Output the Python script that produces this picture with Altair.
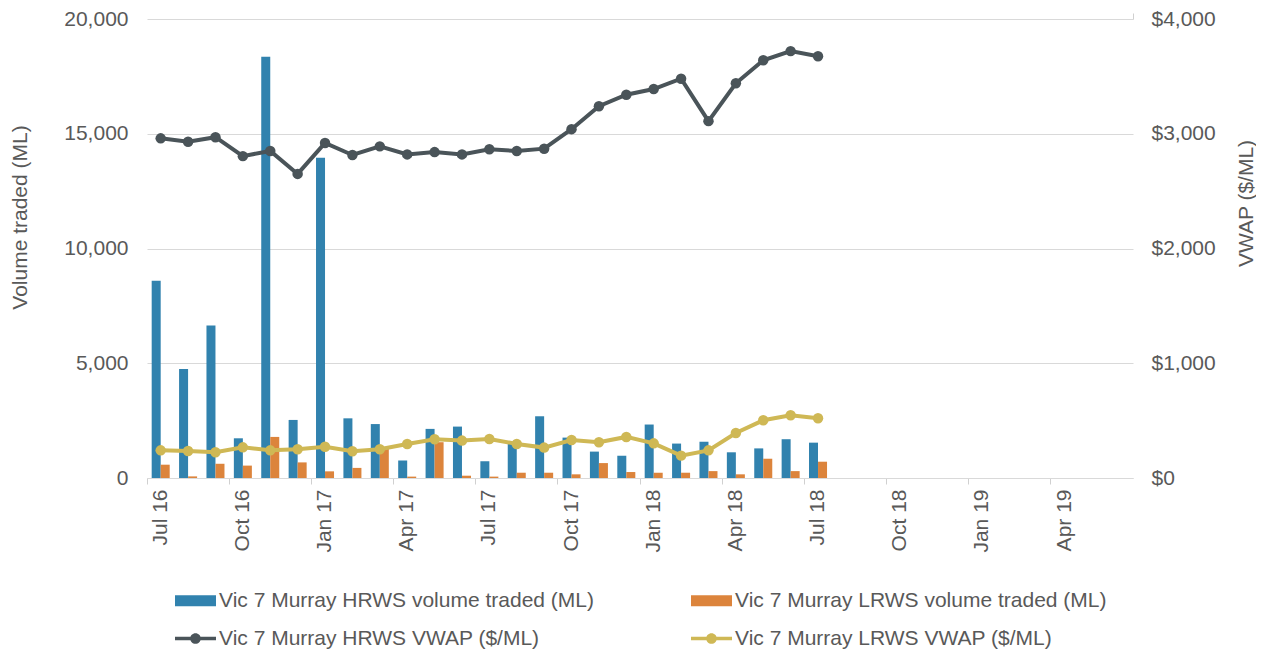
import altair as alt
import pandas as pd

months = ["Jul 16", "Aug 16", "Sep 16", "Oct 16", "Nov 16", "Dec 16",
          "Jan 17", "Feb 17", "Mar 17", "Apr 17", "May 17", "Jun 17",
          "Jul 17", "Aug 17", "Sep 17", "Oct 17", "Nov 17", "Dec 17",
          "Jan 18", "Feb 18", "Mar 18", "Apr 18", "May 18", "Jun 18",
          "Jul 18", "Aug 18", "Sep 18", "Oct 18", "Nov 18", "Dec 18",
          "Jan 19", "Feb 19", "Mar 19", "Apr 19", "May 19", "Jun 19"]
data_months = ["Jul 16", "Aug 16", "Sep 16", "Oct 16", "Nov 16", "Dec 16",
               "Jan 17", "Feb 17", "Mar 17", "Apr 17", "May 17", "Jun 17",
               "Jul 17", "Aug 17", "Sep 17", "Oct 17", "Nov 17", "Dec 17",
               "Jan 18", "Feb 18", "Mar 18", "Apr 18", "May 18", "Jun 18",
               "Jul 18"]
tick_labels = ["Jul 16", "Oct 16", "Jan 17", "Apr 17", "Jul 17", "Oct 17",
               "Jan 18", "Apr 18", "Jul 18", "Oct 18", "Jan 19", "Apr 19"]
last_month = ["Jun 19"]

hrws_vol = [8600, 4750, 6650, 1730, 18350, 2530, 13950, 2600, 2350, 760, 2140, 2240,
            730, 1500, 2690, 1760, 1150, 970, 2330, 1500, 1580, 1120, 1290, 1690, 1540]
lrws_vol = [580, 70, 620, 540, 1790, 680, 290, 440, 1300, 60, 1560, 100,
            60, 230, 230, 160, 650, 260, 230, 230, 300, 160, 840, 300, 710]
hrws_vwap = [2960, 2930, 2970, 2805, 2850, 2650, 2920, 2815, 2890, 2820, 2840, 2820,
             2865, 2850, 2870, 3040, 3240, 3340, 3390, 3480, 3110, 3440, 3640, 3720, 3675]
lrws_vwap = [241, 235, 224, 267, 241, 250, 273, 233, 250, 297, 337, 326,
             340, 297, 265, 331, 311, 358, 302, 195, 241, 392, 503, 547, 520]

series = ["Vic 7 Murray HRWS volume traded (ML)",
          "Vic 7 Murray LRWS volume traded (ML)",
          "Vic 7 Murray HRWS VWAP ($/ML)",
          "Vic 7 Murray LRWS VWAP ($/ML)"]
colors = ["#3182AE", "#DC843C", "#4A5459", "#CFB855"]

vol_ticks = [0, 5000, 10000, 15000, 20000]
vwap_ticks = [0, 1000, 2000, 3000, 4000]

n = len(data_months)
vol_df = pd.DataFrame({
    "month": data_months * 2,
    "series": [series[0]] * n + [series[1]] * n,
    "value": hrws_vol + lrws_vol,
})
vwap_df = pd.DataFrame({
    "month": data_months * 2,
    "series": [series[2]] * n + [series[3]] * n,
    "value": hrws_vwap + lrws_vwap,
})

TXT = "#595959"
FS = 21
W, H = 986, 459
RECT = "M-1,-0.27H1V0.27H-1Z"
LINE = ("M-1,-0.09H-0.2V0.09H-1Z M0.2,-0.09H1V0.09H0.2Z "
        "M0.26,0A0.26,0.26 0 1,1 -0.26,0A0.26,0.26 0 1,1 0.26,0Z")

legend = alt.Legend(
    title=None, orient="none", legendX=28, legendY=561, columns=2, direction="horizontal",
    columnPadding=97, rowPadding=7, symbolSize=1681, labelFontSize=FS,
    labelColor=TXT, labelOffset=3, labelLimit=0, padding=0,
    symbolType=alt.ExprRef(expr="indexof(datum.value, 'VWAP') >= 0 ? '" + LINE + "' : '" + RECT + "'"),
    symbolFillColor=alt.ExprRef(expr="scale('color', datum.value)"),
    symbolStrokeWidth=0, symbolOpacity=1,
)

color = alt.Color("series:N", scale=alt.Scale(domain=series, range=colors), legend=legend)
xscale = alt.Scale(domain=months, paddingInner=0, paddingOuter=0)

x_main = alt.X("month:N", sort=months, scale=xscale,
               axis=alt.Axis(values=tick_labels, title=None, labelAngle=-90, bandPosition=0,
                             tickSize=6, tickColor="#d0d0d0", domainColor="#d9d9d9",
                             labelPadding=5, grid=False))
x_end = alt.X("month:N", sort=months, scale=xscale,
              axis=alt.Axis(values=last_month, title=None, labels=False, bandPosition=1,
                            tickSize=6, tickColor="#d0d0d0", domain=False, grid=False))

bars = alt.Chart(vol_df).mark_bar().encode(
    x=x_main,
    xOffset=alt.XOffset("series:N", sort=series[:2],
                        scale=alt.Scale(paddingInner=0, paddingOuter=0.52)),
    y=alt.Y("value:Q", scale=alt.Scale(domain=[0, 20000]),
            axis=alt.Axis(title="Volume traded (ML)", values=vol_ticks, format=",.0f",
                          ticks=False, domain=False, labelPadding=19, titlePadding=33,
                          titleY=198, gridColor="#d9d9d9")),
    color=color,
)

vy = alt.Y("value:Q", scale=alt.Scale(domain=[0, 4000]),
           axis=alt.Axis(orient="right", title="VWAP ($/ML)", values=vwap_ticks,
                         format="$,.0f", grid=False, ticks=False, domain=False,
                         labelPadding=18, titleAngle=270, titleBaseline="top",
                         titlePadding=20, titleY=184))

lines = alt.Chart(vwap_df).mark_line(strokeWidth=4).encode(x=x_end, y=vy, color=color)
points = alt.Chart(vwap_df).mark_point(filled=True, size=110, opacity=1).encode(
    x=x_end, y=vy, color=color)

chart = alt.layer(bars, alt.layer(lines, points)).resolve_scale(
    y="independent").resolve_axis(x="independent").properties(
    width=W, height=H,
    padding={"left": 139, "top": 11, "right": 123, "bottom": 171},
    autosize=alt.AutoSizeParams(type="none"),
).configure(font="Liberation Sans").configure_axis(
    labelFontSize=FS, labelColor=TXT, titleFontSize=FS, titleColor=TXT,
    titleFontWeight="normal",
).configure_view(stroke=None)

chart.save("out.html", embed_options={"renderer": "svg", "actions": False})
